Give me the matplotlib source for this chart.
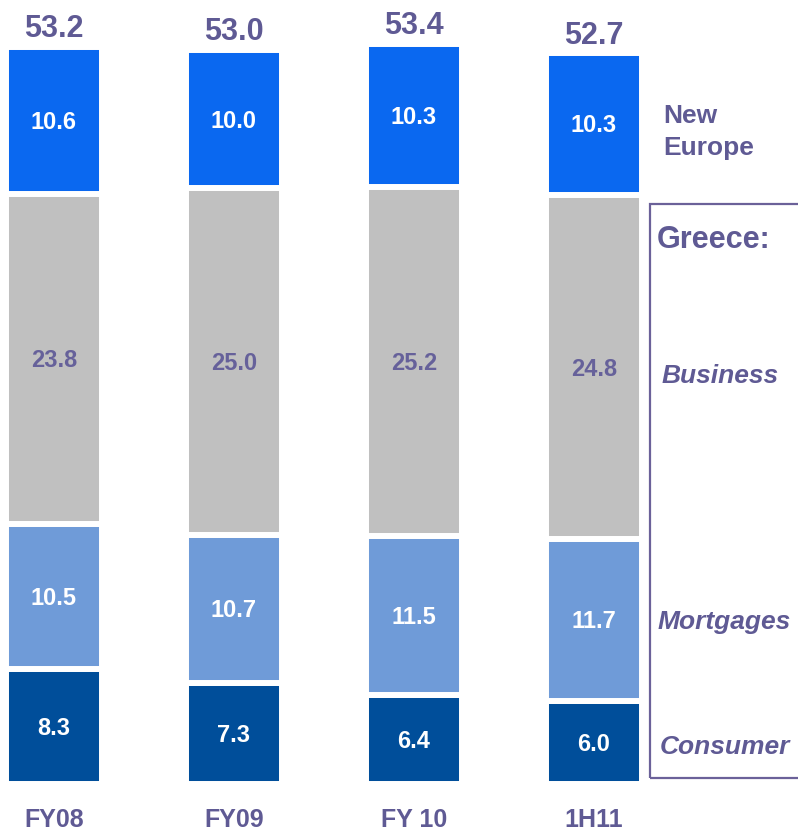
import matplotlib
matplotlib.use("Agg")
import matplotlib.pyplot as plt
from matplotlib.patches import Rectangle
import numpy as np

plt.rcParams["font.family"] = ["Liberation Sans", "DejaVu Sans"]

# ── Data ──────────────────────────────────────────────────────
periods   = ["FY08", "FY09", "FY 10", "1H11"]
consumer  = [8.3, 7.3, 6.4, 6.0]
mortgages = [10.5, 10.7, 11.5, 11.7]
business  = [23.8, 25.0, 25.2, 24.8]
new_eur   = [10.6, 10.0, 10.3, 10.3]
totals    = [53.2, 53.0, 53.4, 52.7]

series = [consumer, mortgages, business, new_eur]
colors = ["#004E9A", "#6F9BD8", "#C0C0C0", "#0A68F0"]
txt_colors = ["white", "white", "#66619A", "white"]
PURPLE = "#5F5A94"

W, H = 798, 833
fig = plt.figure(figsize=(W / 100, H / 100), dpi=100)
ax = fig.add_axes([0, 0, 1, 1])

# pixel layout: bar bottom at y=784, 13.85 px per unit, bars 180 px apart
scale = 13.85
ax.set_xlim(-54 / 180, (W - 54) / 180)
ax.set_ylim(-(H - 784) / scale, 784 / scale)
ax.axis("off")

x = np.arange(len(periods))
bottom = np.zeros(len(periods))
for vals, col, tc in zip(series, colors, txt_colors):
    vals = np.array(vals)
    ax.bar(x, vals, width=0.533, bottom=bottom, color=col,
           edgecolor="white", linewidth=4.3)
    for xi, b, v in zip(x, bottom, vals):
        ax.text(xi, b + v / 2 - 0.61, f"{v:.1f}", ha="center", va="baseline",
                color=tc, fontsize=17, fontweight="bold")
    bottom += vals

for xi, t in zip(x, totals):
    ax.text(xi, t + 0.72, f"{t:.1f}", ha="center", va="baseline",
            color=PURPLE, fontsize=22, fontweight="bold")

for xi, p in zip(x, periods):
    ax.text(xi, -3.12, p, ha="center", va="baseline",
            color=PURPLE, fontsize=18, fontweight="bold")


# ── Right-side legend labels (pixel positions) ────────────────
def px(xp, yp):
    return xp / W, 1 - yp / H


fig.text(*px(663, 123), "New", color=PURPLE, fontsize=19, fontweight="bold")
fig.text(*px(663, 155), "Europe", color=PURPLE, fontsize=19, fontweight="bold")
fig.text(*px(657, 248), "Greece:", color=PURPLE, fontsize=22, fontweight="bold")
fig.text(*px(662, 383), "Business", color=PURPLE, fontsize=19,
         fontweight="bold", style="italic")
fig.text(*px(658, 629), "Mortgages", color=PURPLE, fontsize=19,
         fontweight="bold", style="italic")
fig.text(*px(660, 754), "Consumer", color=PURPLE, fontsize=19,
         fontweight="bold", style="italic")

bx0, by0 = px(650, 778)
bx1, by1 = px(810, 204)
fig.patches.append(Rectangle((bx0, by0), bx1 - bx0, by1 - by0,
                             transform=fig.transFigure, fill=False,
                             edgecolor="#6B6199", linewidth=1.6))

fig.savefig("out.png", dpi=100)
